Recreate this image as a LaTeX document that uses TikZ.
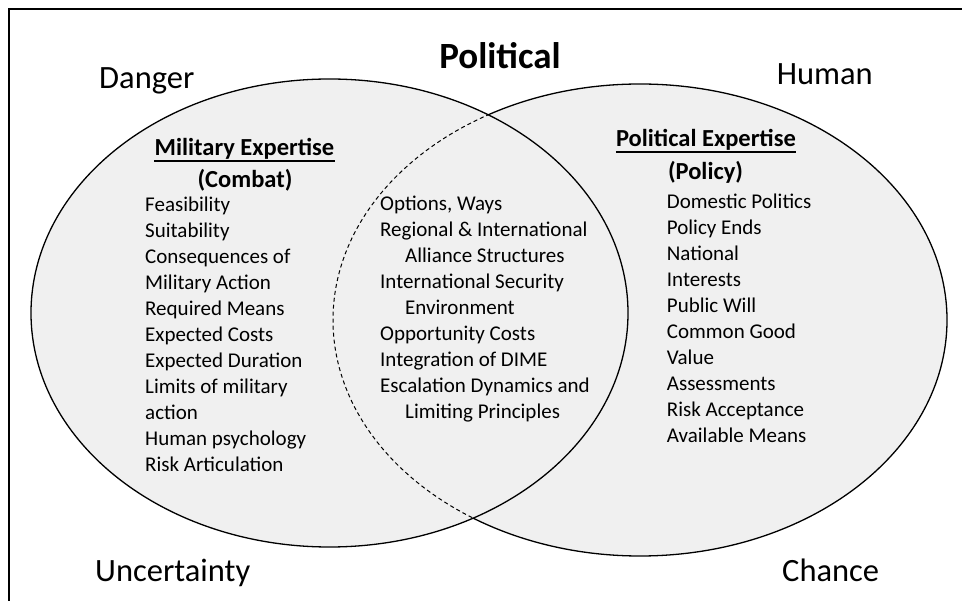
\documentclass[tikz,border=0pt]{standalone}
\usepackage{fontspec}
\setmainfont{Carlito}
\definecolor{vfill}{HTML}{F0F0F0}
\begin{document}
\begin{tikzpicture}[x=1pt,y=-1pt,
  corner/.style={font=\fontsize{32.5}{38}\selectfont, inner sep=0pt},
  bigtitle/.style={font=\fontsize{37}{42}\selectfont\bfseries, inner sep=0pt, anchor=base},
  head/.style={font=\fontsize{24.5}{30}\selectfont\bfseries, inner sep=0pt, anchor=base},
  item/.style={font=\fontsize{21}{26}\selectfont, inner sep=0pt, anchor=base west},
  ring/.style={line width=1.3pt},
  uline/.style={line width=1.8pt}]
\useasboundingbox (0,0) rectangle (962,601);
\fill[white] (0,0) rectangle (962,601);
% frame
\draw[line width=2pt] (9,603) -- (9,9.5) -- (964,9.5);
% circles
\fill[vfill] (640,320) ellipse [x radius=307, y radius=236];
\draw[ring] (640,320) ellipse [x radius=307, y radius=236];
\fill[vfill] (329.5,313) ellipse [x radius=298.5, y radius=234];
\draw[ring] (329.5,313) ellipse [x radius=298.5, y radius=234];
\begin{scope}
  \clip (329.5,313) ellipse [x radius=298.5, y radius=234];
  \draw[line width=1pt, dash pattern=on 4pt off 3pt] (640,320) ellipse [x radius=307, y radius=236];
\end{scope}
% corner labels
\node[corner, anchor=base west] (danger) at (99,89) {Danger};
\node[corner, anchor=base east] (human) at (873,85) {Human};
\node[corner, anchor=base west] (unc) at (95,582) {Uncertainty};
\node[corner, anchor=base west] (chance) at (782,582) {Chance};
\node[bigtitle] (pol) at (500,69) {Political};
% headings
\node[head] (milh) at (244.5,156) {Military Expertise};
\draw[uline] ([yshift=-4.7pt]milh.base west) -- ([yshift=-4.7pt]milh.base east);
\node[head] (comb) at (245,188) {(Combat)};
\node[head] (polh) at (706,147) {Political Expertise};
\draw[uline] ([yshift=-4.7pt]polh.base west) -- ([yshift=-4.7pt]polh.base east);
\node[head] (poli) at (705.5,180) {(Policy)};
% lists
\foreach \t [count=\i from 0] in {Feasibility, Suitability, Consequences of, Military Action, Required Means, Expected Costs, Expected Duration, Limits of military, action, Human psychology, Risk Articulation}
  \node[item] (L\i) at (145,211.7+26*\i) {\t};
\foreach \t [count=\i from 0] in {{Options, Ways}, Regional \& International, \hspace*{25pt}Alliance Structures, International Security, \hspace*{25pt}Environment, Opportunity Costs, Integration of DIME, Escalation Dynamics and, \hspace*{25pt}Limiting Principles}
  \node[item] (M\i) at (380,211+26*\i) {\t};
\foreach \t [count=\i from 0] in {Domestic Politics, Policy Ends, National, Interests, Public Will, Common Good, Value, Assessments, Risk Acceptance, Available Means}
  \node[item] (R\i) at (666.7,209+26*\i) {\t};
\end{tikzpicture}
\end{document}
